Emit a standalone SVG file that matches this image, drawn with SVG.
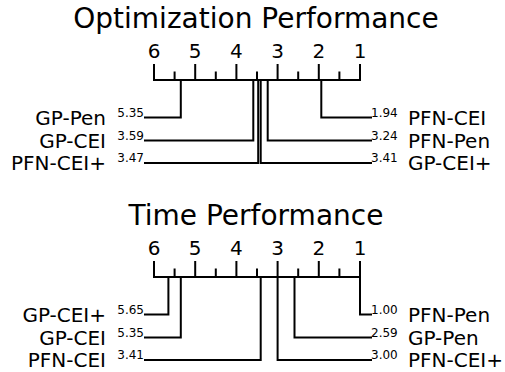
<svg xmlns="http://www.w3.org/2000/svg" width="505" height="372" viewBox="0 0 505 372">
<style>
text{font-family:"DejaVu Sans","Liberation Sans",sans-serif;fill:#000}
.title{font-size:28px;text-anchor:middle}
.tick{font-size:20px;text-anchor:middle}
.nl{font-size:20px;text-anchor:end}
.nr{font-size:20px;text-anchor:start}
.vl{font-size:12px;text-anchor:end}
.vr{font-size:12px;text-anchor:start}
.ln{fill:none;stroke:#000;stroke-width:2;stroke-linecap:square;stroke-linejoin:miter}
</style>
<rect width="505" height="372" fill="#fff"/>
<!-- Panel 1 -->
<g id="axis-opt">
<text class="title" x="256" y="28">Optimization Performance</text>
<text class="tick" x="154" y="58">6</text>
<text class="tick" x="195.2" y="58">5</text>
<text class="tick" x="236.4" y="58">4</text>
<text class="tick" x="277.6" y="58">3</text>
<text class="tick" x="318.8" y="58">2</text>
<text class="tick" x="360" y="58">1</text>
<path class="ln" d="M154 80H360M154 65V80M195.2 65V80M236.4 65V80M277.6 65V80M318.8 65V80M360 65V80M174.6 72.5V80M215.8 72.5V80M257 72.5V80M298.2 72.5V80M339.4 72.5V80"/>
</g>
<g id="connectors-opt">
<path class="ln" d="M180.8 80V117.5H145"/>
<path class="ln" d="M253.3 80V140.5H145"/>
<path class="ln" d="M258.2 80V163H145"/>
<path class="ln" d="M321.3 80V117.5H371"/>
<path class="ln" d="M267.7 80V140.5H371"/>
<path class="ln" d="M260.7 80V163H371"/>
</g>
<g id="opt-gp-pen"><text class="nl" x="106" y="124.5">GP-Pen</text><text class="vl" x="144" y="116.5">5.35</text></g>
<g id="opt-gp-cei"><text class="nl" x="106" y="147.5">GP-CEI</text><text class="vl" x="144" y="139.5">3.59</text></g>
<g id="opt-pfn-ceiplus"><text class="nl" x="106" y="170">PFN-CEI+</text><text class="vl" x="144" y="162">3.47</text></g>
<g id="opt-pfn-cei"><text class="nr" x="408" y="124.5">PFN-CEI</text><text class="vr" x="371" y="116.5">1.94</text></g>
<g id="opt-pfn-pen"><text class="nr" x="408" y="147.5">PFN-Pen</text><text class="vr" x="371" y="139.5">3.24</text></g>
<g id="opt-gp-ceiplus"><text class="nr" x="408" y="170">GP-CEI+</text><text class="vr" x="371" y="162">3.41</text></g>
<!-- Panel 2 -->
<g id="axis-time">
<text class="title" x="256" y="225">Time Performance</text>
<text class="tick" x="154" y="255">6</text>
<text class="tick" x="195.2" y="255">5</text>
<text class="tick" x="236.4" y="255">4</text>
<text class="tick" x="277.6" y="255">3</text>
<text class="tick" x="318.8" y="255">2</text>
<text class="tick" x="360" y="255">1</text>
<path class="ln" d="M154 277H360M154 262V277M195.2 262V277M236.4 262V277M277.6 262V277M318.8 262V277M360 262V277M174.6 269.5V277M215.8 269.5V277M257 269.5V277M298.2 269.5V277M339.4 269.5V277"/>
</g>
<g id="connectors-time">
<path class="ln" d="M168.4 277V314.5H145"/>
<path class="ln" d="M180.8 277V337.5H145"/>
<path class="ln" d="M260.7 277V360H145"/>
<path class="ln" d="M360 277V314.5H371"/>
<path class="ln" d="M294.5 277V337.5H371"/>
<path class="ln" d="M277.6 277V360H371"/>
</g>
<g id="time-gp-ceiplus"><text class="nl" x="106" y="321.5">GP-CEI+</text><text class="vl" x="144" y="313.5">5.65</text></g>
<g id="time-gp-cei"><text class="nl" x="106" y="344.5">GP-CEI</text><text class="vl" x="144" y="336.5">5.35</text></g>
<g id="time-pfn-cei"><text class="nl" x="106" y="367">PFN-CEI</text><text class="vl" x="144" y="359">3.41</text></g>
<g id="time-pfn-pen"><text class="nr" x="408" y="321.5">PFN-Pen</text><text class="vr" x="371" y="313.5">1.00</text></g>
<g id="time-gp-pen"><text class="nr" x="408" y="344.5">GP-Pen</text><text class="vr" x="371" y="336.5">2.59</text></g>
<g id="time-pfn-ceiplus"><text class="nr" x="408" y="367">PFN-CEI+</text><text class="vr" x="371" y="359">3.00</text></g>
</svg>
